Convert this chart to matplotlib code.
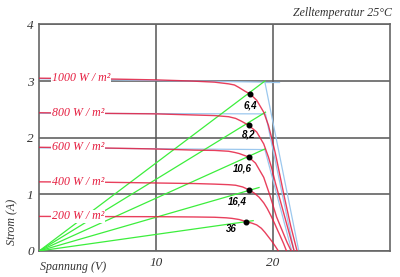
import matplotlib.pyplot as plt

# Kennlinien (Spannung V, Strom A)
irradiance = ["1000", "800", "600", "400", "200"]

v1000 = [0, 5, 10, 13, 15, 16.2, 16.7, 17.05, 17.6, 18.05, 18.6, 19.2, 19.6, 19.9, 20.2, 20.6, 21.0, 21.5, 22.05]
i1000 = [3.05, 3.04, 3.02, 3.0, 2.98, 2.95, 2.93, 2.89, 2.82, 2.77, 2.66, 2.45, 2.22, 1.98, 1.72, 1.32, 0.92, 0.45, 0]

v800 = [0, 5, 10, 13.3, 15, 16.2, 16.8, 17.3, 17.9, 18.6, 19.2, 19.6, 19.9, 20.2, 20.6, 21.0, 21.4, 21.8]
i800 = [2.44, 2.43, 2.42, 2.40, 2.39, 2.37, 2.34, 2.29, 2.22, 2.10, 1.89, 1.66, 1.45, 1.2, 0.9, 0.6, 0.3, 0]

v600 = [0, 5, 10, 13.3, 15, 16.2, 16.7, 17.1, 17.9, 18.5, 19.2, 19.7, 20.0, 20.3, 20.6, 20.9, 21.2, 21.55]
i600 = [1.83, 1.82, 1.80, 1.78, 1.775, 1.76, 1.74, 1.72, 1.66, 1.55, 1.3, 1.0, 0.8, 0.6, 0.45, 0.3, 0.15, 0]

v400 = [0, 5, 10, 13.3, 15, 16.2, 16.8, 17.4, 17.97, 18.4, 18.8, 19.2, 19.5, 19.8, 20.1, 20.4, 20.6, 20.9, 21.15]
i400 = [1.22, 1.215, 1.20, 1.19, 1.18, 1.17, 1.16, 1.13, 1.076, 1.02, 0.95, 0.85, 0.75, 0.63, 0.5, 0.36, 0.27, 0.13, 0]

v200 = [0, 5, 10, 13.3, 15, 16.0, 16.5, 17.1, 17.7, 18.2, 18.6, 19.0, 19.3, 19.6, 19.9, 20.2, 20.45]
i200 = [0.61, 0.607, 0.605, 0.6, 0.595, 0.585, 0.575, 0.555, 0.52, 0.49, 0.46, 0.40, 0.33, 0.25, 0.17, 0.08, 0]

curves_v = [v1000, v800, v600, v400, v200]
curves_i = [i1000, i800, i600, i400, i200]

# ideale Kennlinien (hellblau)
blue_v = [[0, 19.3, 22.2], [0, 19.35, 21.8], [0, 19.3, 21.6]]
blue_i = [[3.04, 2.98, 0], [2.43, 2.42, 0], [1.82, 1.79, 0]]

# MPP und Lastgeraden
mpp_v = [18.05, 17.9, 17.9, 17.97, 17.7]
mpp_i = [2.77, 2.22, 1.66, 1.076, 0.52]
load_end_v = [19.3, 19.35, 19.3, 18.8, 18.3]
load_end_i = [3.0, 2.45, 1.8, 1.12, 0.535]
load_r = ["6,4", "8,2", "10,6", "16,4", "36"]
rlab_v = [18.05, 17.9, 17.34, 16.97, 16.43]
rlab_i = [2.57, 2.05, 1.45, 0.87, 0.384]

red = "#e51e40"
green = "#3cee3c"
blue = "#9cc8ee"

fig = plt.figure(figsize=(4, 2.77), dpi=100)
ax = fig.add_axes([0.098, 0.094, 0.877, 0.818])

for bv, bi in zip(blue_v, blue_i):
    ax.plot(bv, bi, color=blue, lw=0.9, zorder=2)
ax.plot([19.3, 20.5], [2.98, 2.98], color=blue, lw=0.9, zorder=2)

for ev, ei in zip(load_end_v, load_end_i):
    ax.plot([0, ev], [0, ei], color=green, lw=0.9, zorder=3)

for cv, ci in zip(curves_v, curves_i):
    ax.plot(cv, ci, color=red, lw=1.0, alpha=0.85, zorder=4)

ax.scatter(mpp_v, mpp_i, s=11, color="black", zorder=6)

for name, ci in zip(irradiance, curves_i):
    ax.text(1.1, ci[0], name + " W / m²", color=red, fontsize=8.6,
            family="Liberation Serif", style="italic", va="center", ha="left",
            bbox=dict(facecolor="white", edgecolor="none", pad=0.6), zorder=5)

for r, x, y in zip(load_r, rlab_v, rlab_i):
    ax.text(x, y, r, fontsize=7, family="Liberation Sans", weight="bold",
            style="italic", ha="center", va="center", zorder=6)

ax.set_xlim(0, 30)
ax.set_ylim(0, 4)
ax.set_xticks([10, 20])
ax.set_yticks([0, 1, 2, 3, 4])
ax.tick_params(length=0, labelsize=9.5, pad=4, colors="#333333")
for lab in ax.get_xticklabels() + ax.get_yticklabels():
    lab.set_family("Liberation Serif")
    lab.set_style("italic")
ax.grid(True, color="#555555", lw=1.1)
ax.set_axisbelow(True)
for sp in ax.spines.values():
    sp.set_color("#666666")
    sp.set_linewidth(1.2)

fig.text(0.1, 0.035, "Spannung (V)", fontsize=8.6, family="Liberation Serif",
         style="italic", color="#333333", ha="left", va="center")
fig.text(0.03, 0.2, "Strom (A)", fontsize=8.6, family="Liberation Serif",
         style="italic", color="#333333", rotation=90, ha="center", va="center")
fig.text(0.98, 0.953, "Zelltemperatur 25°C", fontsize=8.6, family="Liberation Serif",
         style="italic", color="#333333", ha="right", va="center")

fig.savefig("out.png", dpi=100)
